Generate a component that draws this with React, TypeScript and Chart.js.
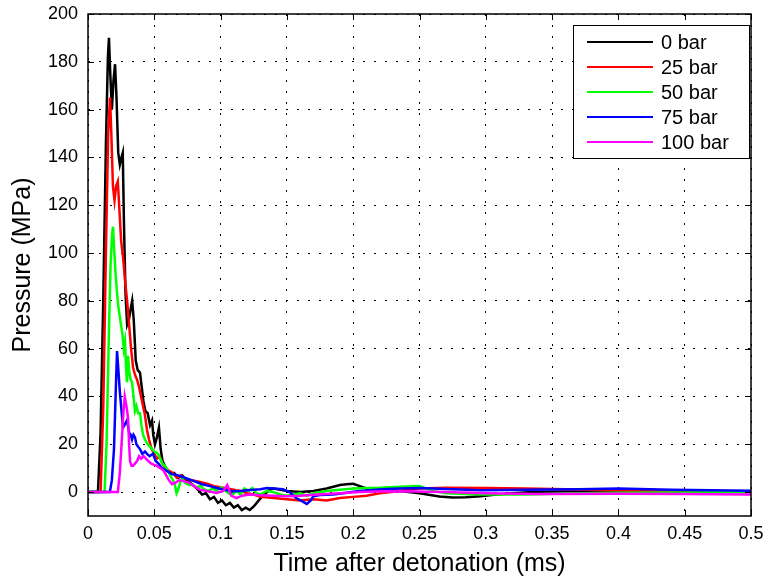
import React, { useEffect, useRef } from 'react';
import { Chart, registerables } from 'chart.js';

Chart.register(...registerables);

const FONT = '"Liberation Sans", Arial, Helvetica, sans-serif';

const seriesLabels = ['0 bar', '25 bar', '50 bar', '75 bar', '100 bar'];
const seriesColors = ['#000000', '#ff0000', '#00ff00', '#0000ff', '#ff00ff'];

const xTicks = [0, 0.05, 0.1, 0.15, 0.2, 0.25, 0.3, 0.35, 0.4, 0.45, 0.5];
const xTickLabels = ['0', '0.05', '0.1', '0.15', '0.2', '0.25', '0.3', '0.35', '0.4', '0.45', '0.5'];
const yTicks = [0, 20, 40, 60, 80, 100, 120, 140, 160, 180, 200];
const yTickLabels = ['0', '20', '40', '60', '80', '100', '120', '140', '160', '180', '200'];

// 0 bar
const t0 = [
  0, 0.0075, 0.0095, 0.0115, 0.0135, 0.0150, 0.0158, 0.0168, 0.0180, 0.0192,
  0.0204, 0.0215, 0.0228, 0.0240, 0.0252, 0.0262, 0.0272, 0.0283, 0.0295, 0.0308,
  0.0320, 0.0333, 0.0345, 0.0360, 0.0375, 0.0392, 0.0405, 0.0418, 0.0432, 0.0450,
  0.0468, 0.0483, 0.0492, 0.0505, 0.0520, 0.0535, 0.0548, 0.0562, 0.0580, 0.0600,
  0.0625, 0.0650, 0.0680, 0.0710, 0.0740, 0.0770, 0.0800, 0.0830, 0.0860, 0.0890,
  0.0920, 0.0950, 0.0980, 0.1010, 0.1040, 0.1070, 0.1100, 0.1130, 0.1160, 0.1190,
  0.1220, 0.1250, 0.1280, 0.1310, 0.1340, 0.1370, 0.1400, 0.1450, 0.1500, 0.1600,
  0.1700, 0.1800, 0.1900, 0.1950, 0.2000, 0.2050, 0.2100, 0.2200, 0.2350, 0.2500,
  0.2650, 0.2750, 0.2850, 0.2960, 0.3080, 0.3200, 0.3350, 0.3600, 0.4000, 0.4500,
  0.5000,
];
const p0 = [
  0, 0, 25, 80, 145, 182, 190, 175, 160, 172,
  179, 165, 142, 137, 140, 142, 110, 83, 70, 72,
  76, 80, 72, 55, 51, 50, 44, 38, 34, 33,
  28, 30, 24, 20, 23, 27, 18, 13, 11, 9,
  7.5, 8, 6, 7, 5, 4, 2.5, 1, -1, -0.5,
  -3, -2, -4.5, -3.5, -5.5, -4.5, -6.5, -5.5, -7.5, -6.5,
  -7.5, -6, -4, -2, -0.5, 1, 1.5, 1, 0.5, 0,
  0.5, 1.5, 3, 3.3, 3.5, 2.5, 1.5, 1.2, 0.5, -0.5,
  -1.8, -2.3, -2.2, -1.7, -1, -0.5, 0, 0.3, 0.3, 0.2,
  0.2,
];

// 25 bar
const t1 = [
  0, 0.0095, 0.0115, 0.0135, 0.0152, 0.0166, 0.0176, 0.0188, 0.0200, 0.0212,
  0.0225, 0.0237, 0.0250, 0.0265, 0.0280, 0.0295, 0.0310, 0.0325, 0.0340, 0.0355,
  0.0370, 0.0385, 0.0400, 0.0415, 0.0430, 0.0445, 0.0460, 0.0480, 0.0500, 0.0520,
  0.0540, 0.0560, 0.0585, 0.0610, 0.0640, 0.0670, 0.0700, 0.0740, 0.0780, 0.0820,
  0.0860, 0.0900, 0.0950, 0.1000, 0.1050, 0.1100, 0.1150, 0.1200, 0.1250, 0.1300,
  0.1400, 0.1500, 0.1600, 0.1700, 0.1800, 0.1900, 0.2000, 0.2100, 0.2200, 0.2350,
  0.2500, 0.2700, 0.3000, 0.3300, 0.3600, 0.4000, 0.4500, 0.5000,
];
const p1 = [
  0, 0, 35, 100, 150, 165, 150, 128, 122, 128,
  130, 118, 105, 98, 88, 80, 70, 60, 52, 49,
  47, 44, 40, 36, 32, 26, 22, 18, 16, 14,
  15, 12, 10, 9, 8, 6, 7, 5.5, 5, 4.5,
  4, 3.5, 2.5, 2, 1.5, 1, 0.5, -0.5, -1, -2,
  -2.5, -3, -3.5, -3, -3.5, -2.5, -2, -1.5, -0.5, 0.5,
  1.5, 1.8, 1.7, 1.5, 1.2, 0.7, 0.3, 0,
];

// 50 bar
const t2 = [
  0, 0.0125, 0.0140, 0.0155, 0.0170, 0.0182, 0.0189, 0.0197, 0.0207, 0.0218,
  0.0228, 0.0238, 0.0249, 0.0260, 0.0270, 0.0279, 0.0287, 0.0294, 0.0302, 0.0312,
  0.0322, 0.0332, 0.0343, 0.0354, 0.0365, 0.0378, 0.0392, 0.0403, 0.0415, 0.0430,
  0.0450, 0.0468, 0.0483, 0.0500, 0.0515, 0.0528, 0.0545, 0.0560, 0.0580, 0.0603,
  0.0620, 0.0640, 0.0656, 0.0668, 0.0680, 0.0695, 0.0709, 0.0730, 0.0760, 0.0790,
  0.0820, 0.0850, 0.0880, 0.0910, 0.0940, 0.0970, 0.1000, 0.1030, 0.1060, 0.1090,
  0.1120, 0.1150, 0.1180, 0.1210, 0.1240, 0.1270, 0.1300, 0.1350, 0.1400, 0.1450,
  0.1500, 0.1550, 0.1600, 0.1650, 0.1700, 0.1800, 0.1900, 0.2000, 0.2100, 0.2200,
  0.2350, 0.2500, 0.2600, 0.2700, 0.2850, 0.3000, 0.3300, 0.3600, 0.4000, 0.4500,
  0.5000,
];
const p2 = [
  0, 0, 20, 60, 95, 108, 111, 102, 92, 84,
  78, 74, 70, 66, 60, 63, 52, 46, 57, 50,
  47, 46, 40, 34, 36, 33, 33, 28, 24, 22,
  20, 19, 18, 17, 16.5, 16, 14, 12, 11, 9,
  7, 5, 3, -0.5, 1, 4, 6, 4, 3, 3,
  2, 2.5, 1, 0.5, 1.5, 0.5, 2, 1, -0.5, -1,
  0.5, -1, 1.5, 0.5, 1.7, -0.5, -1, 0.5, 0, -1,
  -1.5, -1, -0.5, -1.5, -0.5, 0.5, 1, 1.5, 1.7, 1.8,
  2.2, 2.5, 0.5, -0.5, -0.8, -1, -1, -0.6, -0.3, -0.2,
  0,
];

// 75 bar
const t3 = [
  0, 0.0165, 0.0180, 0.0196, 0.0208, 0.0219, 0.0228, 0.0240, 0.0256, 0.0264,
  0.0275, 0.0294, 0.0310, 0.0322, 0.0332, 0.0343, 0.0354, 0.0365, 0.0378, 0.0392,
  0.0410, 0.0430, 0.0445, 0.0465, 0.0490, 0.0510, 0.0530, 0.0558, 0.0590, 0.0633,
  0.0680, 0.0730, 0.0780, 0.0860, 0.0920, 0.0970, 0.1030, 0.1090, 0.1150, 0.1200,
  0.1250, 0.1300, 0.1350, 0.1400, 0.1470, 0.1520, 0.1570, 0.1620, 0.1650, 0.1680,
  0.1700, 0.1750, 0.1850, 0.1950, 0.2030, 0.2120, 0.2220, 0.2350, 0.2500, 0.2700,
  0.2960, 0.3300, 0.3700, 0.4000, 0.4400, 0.4700, 0.5000,
];
const p3 = [
  0, 0, 5, 18, 40, 59, 52, 42, 32, 27,
  28, 30, 25, 24, 22, 24, 23, 20, 19, 18,
  16, 17, 16, 15, 16, 13, 12, 10, 9, 7.5,
  7, 6, 5, 3.3, 2.5, 1.7, 1, 0.4, 0.5, 0.8,
  1, 1.2, 1.7, 1.5, 1.2, 0, -2.5, -4, -5, -3.5,
  -1.7, -1.2, -1, -0.3, 0.4, 0.8, 1.2, 1.5, 1.7, 1.3,
  0.8, 1, 1.2, 1.5, 1, 0.8, 0.6,
];

// 100 bar
const t4 = [
  0, 0.0225, 0.0240, 0.0255, 0.0268, 0.0277, 0.0290, 0.0302, 0.0310, 0.0317,
  0.0328, 0.0340, 0.0355, 0.0370, 0.0385, 0.0400, 0.0420, 0.0437, 0.0455, 0.0475,
  0.0495, 0.0520, 0.0545, 0.0570, 0.0590, 0.0610, 0.0633, 0.0660, 0.0690, 0.0720,
  0.0760, 0.0800, 0.0845, 0.0900, 0.0970, 0.1020, 0.1050, 0.1080, 0.1120, 0.1160,
  0.1220, 0.1300, 0.1400, 0.1500, 0.1600, 0.1730, 0.1900, 0.2050, 0.2220, 0.2450,
  0.2700, 0.3000, 0.3400, 0.4000, 0.4500, 0.5000,
];
const p4 = [
  0, 0, 8, 22, 34, 40, 36, 31, 20, 13,
  11, 11, 12, 13, 15, 14, 15, 14, 13, 12,
  11.5, 11, 10, 9, 7, 5, 3.3, 4, 5, 4.6,
  4, 2.5, 1, 0.4, -0.4, 0.5, 3, -1.5, -2.5, -1.5,
  -1, -1.3, -1.5, -1.7, -1.5, -1, -0.5, 0, 0.4, 0.3,
  0, -0.5, -0.8, -0.7, -0.8, -1,
];

const seriesTimes = [t0, t1, t2, t3, t4];
const seriesValues = [p0, p1, p2, p3, p4];

const matlabFrame = {
  id: 'matlabFrame',
  afterDatasetsDraw(chart: any) {
    const { ctx, chartArea } = chart;
    const { left, right, top, bottom } = chartArea;
    const xs = chart.scales.x;
    const ys = chart.scales.y;
    ctx.save();
    ctx.strokeStyle = '#000';
    ctx.lineWidth = 1;
    ctx.beginPath();
    xTicks.forEach((v) => {
      const px = Math.round(xs.getPixelForValue(v)) + 0.5;
      ctx.moveTo(px, bottom);
      ctx.lineTo(px, bottom - 6);
      ctx.moveTo(px, top);
      ctx.lineTo(px, top + 6);
    });
    yTicks.forEach((v) => {
      const py = Math.round(ys.getPixelForValue(v)) + 0.5;
      ctx.moveTo(left, py);
      ctx.lineTo(left + 6, py);
      ctx.moveTo(right, py);
      ctx.lineTo(right - 6, py);
    });
    ctx.stroke();
    ctx.lineWidth = 1.5;
    ctx.strokeRect(left, top, right - left, bottom - top);

    // legend box
    const bw = 176;
    const bh = 133;
    const bx = right - 2 - bw;
    const by = top + 11;
    ctx.fillStyle = '#fff';
    ctx.fillRect(bx, by, bw, bh);
    ctx.lineWidth = 1;
    ctx.strokeStyle = '#000';
    ctx.strokeRect(bx + 0.5, by + 0.5, bw, bh);
    ctx.font = `20px ${FONT}`;
    ctx.textBaseline = 'middle';
    ctx.textAlign = 'left';
    seriesLabels.forEach((lab, i) => {
      const ly = by + 17 + i * 25;
      ctx.strokeStyle = seriesColors[i];
      ctx.lineWidth = 2;
      ctx.beginPath();
      ctx.moveTo(bx + 14, ly);
      ctx.lineTo(bx + 80, ly);
      ctx.stroke();
      ctx.fillStyle = '#000';
      ctx.fillText(lab, bx + 88, ly + 1);
    });
    ctx.restore();
  },
};

export default function App() {
  const ref = useRef<HTMLCanvasElement | null>(null);
  useEffect(() => {
    if (!ref.current) return;
    Chart.defaults.font.family = FONT;
    Chart.defaults.color = '#000';
    const datasets = seriesLabels.map((label, i) => ({
      label,
      data: seriesTimes[i].map((t, j) => ({ x: t, y: seriesValues[i][j] })),
      borderColor: seriesColors[i],
      backgroundColor: seriesColors[i],
      borderWidth: 2.5,
      pointRadius: 0,
      tension: 0,
      fill: false,
      order: seriesLabels.length - i,
    }));
    const chart = new Chart(ref.current, {
      type: 'line',
      data: { datasets },
      options: {
        animation: false,
        responsive: false,
        layout: { padding: { top: 14, right: 17, left: 0, bottom: 0 } },
        plugins: { legend: { display: false }, tooltip: { enabled: false }, title: { display: false } },
        scales: {
          x: {
            type: 'linear',
            min: 0,
            max: 0.5,
            afterBuildTicks: (s: any) => { s.ticks = xTicks.map((v) => ({ value: v })); },
            afterFit: (s: any) => { s.height = 61; s.paddingLeft = 0; s.paddingRight = 0; },
            ticks: {
              font: { size: 18, family: FONT },
              color: '#000',
              padding: 7,
              maxRotation: 0,
              autoSkip: false,
              callback: (v: any) => { const k = xTicks.indexOf(Number(v)); return k >= 0 ? xTickLabels[k] : ''; },
            },
            grid: { color: '#000', lineWidth: 1, drawTicks: false },
            border: { display: false, dash: [2, 9] },
            title: {
              display: true,
              text: 'Time after detonation (ms)',
              font: { size: 25, family: FONT, lineHeight: 1 },
              color: '#000',
              padding: { top: 0, bottom: 0 },
            },
          },
          y: {
            type: 'linear',
            min: -10,
            max: 200,
            afterBuildTicks: (s: any) => { s.ticks = yTicks.map((v) => ({ value: v })); },
            afterFit: (s: any) => { s.width = 88; s.paddingTop = 0; s.paddingBottom = 0; },
            ticks: {
              font: { size: 18, family: FONT },
              color: '#000',
              padding: 10,
              autoSkip: false,
              callback: (v: any) => { const k = yTicks.indexOf(Number(v)); return k >= 0 ? yTickLabels[k] : ''; },
            },
            grid: { color: '#000', lineWidth: 1, drawTicks: false },
            border: { display: false, dash: [2, 9] },
            title: {
              display: true,
              text: 'Pressure (MPa)',
              font: { size: 25, family: FONT, lineHeight: 1 },
              color: '#000',
              padding: { top: 11, bottom: 0 },
            },
          },
        },
      },
      plugins: [matlabFrame],
    });
    return () => chart.destroy();
  }, []);
  return (
    <div style={{ position: 'absolute', left: 0, top: 0, width: 768, height: 577, background: '#fff' }}>
      <canvas ref={ref} width={768} height={577} />
    </div>
  );
}
